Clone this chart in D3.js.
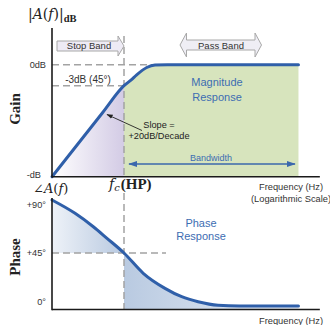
<!DOCTYPE html>
<html><head><meta charset="utf-8">
<script src="https://cdn.jsdelivr.net/npm/d3@7"></script>
<style>body{margin:0;background:#fff} svg{display:block}</style>
</head><body>
<svg id="c" width="330" height="325"></svg>
<script>
// ---- data ----
const gainFreq = [0.1, 0.5, 1, 1.25, 1.5, 2.07, 2.7, 4, 265];
const gainDb   = [-16, -6.9, -3, -2.2, -1.45, -0.4, -0.05, 0, 0];
const phaseFreq = [0.1, 0.209, 0.375, 0.575, 1, 1.85, 3.71, 6.33, 10.7, 20.2, 40, 265];
const phaseDeg  = [90, 78.7, 67.3, 57.7, 45, 27.8, 15, 7.9, 3.6, 0.6, 0, 0];
const gainTicks = [0, -16];
const gainTickLabels = ["0dB", "-dB"];
const phaseTicks = [90, 45, 0];
const phaseTickLabels = ["+90°", "+45°", "0°"];
const cutoffFreq = 1, cutoffGain = -3, cutoffPhase = 45;

const svg = d3.select("#c");
const SANS = "'Liberation Sans', Arial, sans-serif";
const SERIF = "'Liberation Serif', 'Times New Roman', serif";
const MATH = "'DejaVu Serif', 'Liberation Serif', serif";
const BLUE = "#2f5fa9", TXTBLUE = "#3d6db2", DASH = "#a3a3a3";

const x = d3.scaleLog().domain([0.1, 1000]).range([52, 340]);
const yG = d3.scaleLinear().domain([-16, 0]).range([176.7, 64.7]);
const yP = d3.scaleLinear().domain([0, 90]).range([306, 200]);
const xEnd = x(525), fcX = x(cutoffFreq);
const gainFloor = -16, phaseFloor = -3;

const gData = gainFreq.map((f, i) => ({f, v: gainDb[i]}));
const pData = phaseFreq.map((f, i) => ({f, v: phaseDeg[i]}));

// gradients
const defs = svg.append("defs");
function grad(id, x1, x2, c1, c2) {
  const g = defs.append("linearGradient").attr("id", id).attr("gradientUnits", "userSpaceOnUse")
    .attr("x1", x1).attr("x2", x2).attr("y1", 0).attr("y2", 0);
  g.append("stop").attr("offset", 0).attr("stop-color", c1);
  g.append("stop").attr("offset", 1).attr("stop-color", c2);
}
grad("gPurple", x(0.1), fcX, "#ffffff", "#d3cbe5");
grad("gBlueL", x(0.1), fcX, "#eef2f8", "#b8c9e0");
grad("gBlueR", fcX, x(265), "#b9cae1", "#e8eef6");

const curve = d3.curveMonotoneX;
const before = d => d.f <= cutoffFreq, after = d => d.f >= cutoffFreq;

// gain fills
svg.append("path").datum(gData.filter(before))
  .attr("d", d3.area().x(d => x(d.f)).y0(yG(gainFloor)).y1(d => yG(d.v)).curve(curve))
  .attr("fill", "url(#gPurple)");
svg.append("path").datum(gData.filter(after))
  .attr("d", d3.area().x(d => x(d.f)).y0(yG(gainFloor)).y1(d => yG(d.v)).curve(curve))
  .attr("fill", "#d7e4bd");
// phase fills
svg.append("path").datum(pData.filter(before))
  .attr("d", d3.area().x(d => x(d.f)).y0(yP(cutoffPhase)).y1(d => yP(d.v)).curve(curve))
  .attr("fill", "url(#gBlueL)");
svg.append("path").datum(pData.filter(after))
  .attr("d", d3.area().x(d => x(d.f)).y0(yP(phaseFloor)).y1(d => yP(d.v)).curve(curve))
  .attr("fill", "url(#gBlueR)");

// dashed guides
function dash(x1, y1, x2, y2) {
  svg.append("line").attr("x1", x1).attr("y1", y1).attr("x2", x2).attr("y2", y2)
    .attr("stroke", DASH).attr("stroke-width", 1.5).attr("stroke-dasharray", "7,4");
}
dash(x(0.1), yG(0), x(2.7), yG(0));
dash(x(0.1), yG(cutoffGain), fcX, yG(cutoffGain));
dash(fcX, 36, fcX, yG(gainFloor));
dash(fcX, 193, fcX, 312);
dash(x(0.1), yP(cutoffPhase), 166, yP(cutoffPhase));

// curves
const line = y => d3.line().x(d => x(d.f)).y(d => y(d.v)).curve(curve);
svg.append("path").datum(gData).attr("d", line(yG)).attr("fill", "none")
  .attr("stroke", BLUE).attr("stroke-width", 3).attr("stroke-linecap", "round");
svg.append("path").datum(pData).attr("d", line(yP)).attr("fill", "none")
  .attr("stroke", BLUE).attr("stroke-width", 3).attr("stroke-linecap", "round");

// axes
const AX = "#1a1a1a";
function axLine(x1, y1, x2, y2) {
  svg.append("line").attr("x1", x1).attr("y1", y1).attr("x2", x2).attr("y2", y2)
    .attr("stroke", AX).attr("stroke-width", 1.6);
}
axLine(x(0.1), 28, x(0.1), yG(gainFloor) + 0.8);
axLine(x(0.1), yG(gainFloor), xEnd, yG(gainFloor));
axLine(x(0.1), 198, x(0.1), yP(phaseFloor) + 0.8);
axLine(x(0.1), yP(phaseFloor), xEnd, yP(phaseFloor));

function tickAxis(scale, vals, labels, shiftsY, shiftsX) {
  const g = svg.append("g").attr("transform", `translate(${x(0.1)},0)`)
    .call(d3.axisLeft(scale).tickValues(vals).tickSize(0).tickPadding(6)
      .tickFormat((d, i) => labels[i]));
  g.select(".domain").remove();
  g.selectAll("text").attr("font-family", SANS).attr("font-size", 9.2).attr("fill", "#333")
    .attr("y", (d, i) => shiftsY[i]).attr("dx", (d, i) => shiftsX[i]);
  return g;
}
tickAxis(yG, gainTicks, gainTickLabels, [0, -2.5], [0, -5]);
tickAxis(yP, phaseTicks, phaseTickLabels, [4.5, 0, -4], [0, 0, 0]);

// text helpers
function txt(t, px, py, o = {}) {
  return svg.append("text").attr("x", px).attr("y", py).text(t)
    .attr("font-family", o.font || SANS).attr("font-size", o.size || 9.5)
    .attr("fill", o.fill || "#333").attr("text-anchor", o.anchor || "start")
    .attr("font-weight", o.weight || "normal");
}

txt("-3dB (45°)", 88, 83, {anchor: "middle", size: 10});

// Stop band block arrow
const stopPath = d3.path();
stopPath.moveTo(57, 41); stopPath.lineTo(118, 41); stopPath.lineTo(118, 36);
stopPath.lineTo(124, 46); stopPath.lineTo(118, 56); stopPath.lineTo(118, 51);
stopPath.lineTo(57, 51); stopPath.closePath();
svg.append("path").attr("d", stopPath.toString()).attr("fill", "#eeebf5")
  .attr("stroke", "#a8a8a8").attr("stroke-width", 1);
txt("Stop Band", 89, 49.3, {anchor: "middle"});

// Pass band double arrow
const passPath = d3.path();
passPath.moveTo(180, 45); passPath.lineTo(186.5, 33); passPath.lineTo(186.5, 40);
passPath.lineTo(255, 40); passPath.lineTo(255, 33); passPath.lineTo(261.5, 45);
passPath.lineTo(255, 57); passPath.lineTo(255, 50); passPath.lineTo(186.5, 50);
passPath.lineTo(186.5, 57); passPath.closePath();
svg.append("path").attr("d", passPath.toString()).attr("fill", "#efeef5")
  .attr("stroke", "#a8a8a8").attr("stroke-width", 1);
txt("Pass Band", 221, 48.5, {anchor: "middle"});

txt("Magnitude", 217, 85.5, {anchor: "middle", size: 11, fill: TXTBLUE});
txt("Response", 217, 100.5, {anchor: "middle", size: 11, fill: TXTBLUE});

txt("Slope =", 159, 128, {anchor: "middle", size: 9.2, fill: "#222"});
txt("+20dB/Decade", 159, 139, {anchor: "middle", size: 9.2, fill: "#222"});
// slope pointer
defs.append("marker").attr("id", "ah").attr("viewBox", "0 0 10 10").attr("refX", 9).attr("refY", 5)
  .attr("markerWidth", 7).attr("markerHeight", 7).attr("orient", "auto")
  .append("path").attr("d", "M0,1.5L10,5L0,8.5Z").attr("fill", "#222");
svg.append("line").attr("x1", 142).attr("y1", 130.5).attr("x2", 107).attr("y2", 114.5)
  .attr("stroke", "#222").attr("stroke-width", 0.9).attr("marker-end", "url(#ah)");

// bandwidth arrow
defs.append("marker").attr("id", "bh").attr("viewBox", "0 0 10 10").attr("refX", 9).attr("refY", 5)
  .attr("markerWidth", 6).attr("markerHeight", 6).attr("orient", "auto-start-reverse")
  .append("path").attr("d", "M0,1.5L10,5L0,8.5Z").attr("fill", "#3b68ad");
svg.append("line").attr("x1", 129).attr("y1", 164).attr("x2", 295).attr("y2", 164)
  .attr("stroke", "#3b68ad").attr("stroke-width", 1.5)
  .attr("marker-start", "url(#bh)").attr("marker-end", "url(#bh)");
txt("Bandwidth", 211, 160.5, {anchor: "middle", size: 9, fill: TXTBLUE});

txt("Frequency (Hz)", 259, 190, {size: 9.3});
txt("(Logarithmic Scale)", 251, 202, {size: 9.3});
txt("Frequency (Hz)", 259, 323.5, {size: 9.3});

txt("Phase", 201, 226.5, {anchor: "middle", size: 11, fill: TXTBLUE});
txt("Response", 201, 240, {anchor: "middle", size: 11, fill: TXTBLUE});

// math-style labels
const t1 = svg.append("text").attr("x", 28).attr("y", 19).attr("font-family", MATH)
  .attr("font-size", 14).attr("fill", "#222");
t1.append("tspan").text("|");
t1.append("tspan").text("A").attr("font-style", "italic");
t1.append("tspan").text("(");
t1.append("tspan").text("f").attr("font-style", "italic");
t1.append("tspan").text(")|");
t1.append("tspan").text("dB").attr("font-family", SERIF).attr("font-size", 10.5)
  .attr("font-weight", "bold").attr("dy", 3);

const t2 = svg.append("text").attr("x", 33).attr("y", 192.5).attr("font-family", MATH)
  .attr("font-size", 13).attr("fill", "#222");
t2.append("tspan").text("∠");
t2.append("tspan").text("A").attr("font-style", "italic");
t2.append("tspan").text("(");
t2.append("tspan").text("f").attr("font-style", "italic");
t2.append("tspan").text(")");

const t3 = svg.append("text").attr("x", 109).attr("y", 189).attr("font-family", MATH)
  .attr("font-size", 14).attr("fill", "#222");
t3.append("tspan").text("f").attr("font-style", "italic");
t3.append("tspan").text("c").attr("font-style", "italic").attr("font-size", 10).attr("dy", 2);
t3.append("tspan").text("(HP)").attr("font-family", SERIF).attr("font-size", 15)
  .attr("font-weight", "bold").attr("dy", -2).attr("dx", 1);

svg.append("text").attr("transform", "translate(20,109) rotate(-90)").attr("text-anchor", "middle")
  .attr("font-family", SERIF).attr("font-weight", "bold").attr("font-size", 15).attr("fill", "#222").text("Gain");
svg.append("text").attr("transform", "translate(20,257) rotate(-90)").attr("text-anchor", "middle")
  .attr("font-family", SERIF).attr("font-weight", "bold").attr("font-size", 15).attr("fill", "#222").text("Phase");
</script>
</body></html>
